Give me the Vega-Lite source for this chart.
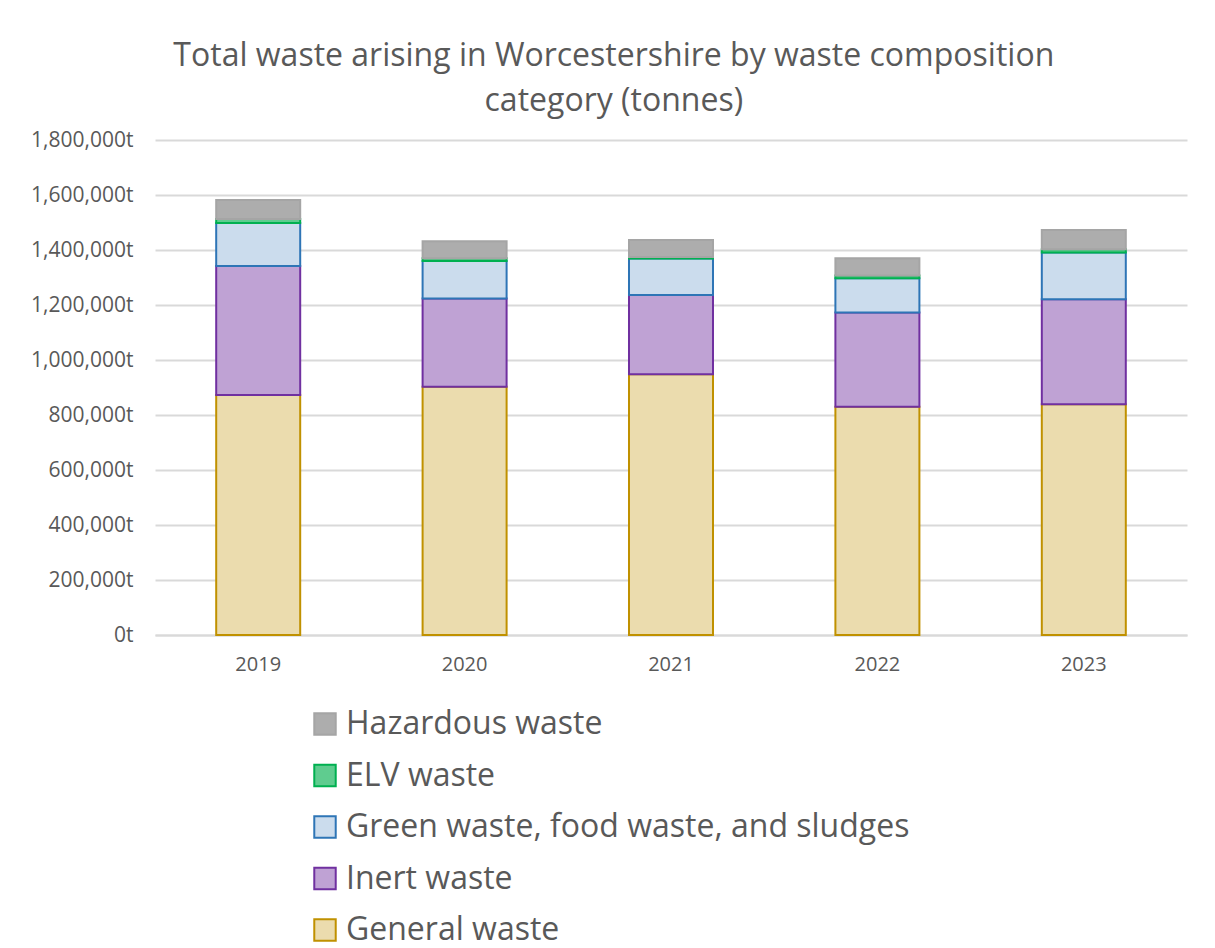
{
  "$schema": "https://vega.github.io/schema/vega-lite/v6.json",
  "width": 1032,
  "height": 495,
  "autosize": "none",
  "padding": {"left": 155, "top": 140, "right": 28, "bottom": 313},
  "background": "white",
  "config": {
    "font": "Open Sans",
    "view": {"stroke": null}
  },
  "title": {
    "text": ["Total waste arising in Worcestershire by waste composition", "category (tonnes)"],
    "fontSize": 32,
    "fontWeight": "normal",
    "color": "#595959",
    "lineHeight": 45,
    "offset": 11,
    "anchor": "middle",
    "frame": "bounds",
    "dx": 5
  },
  "data": {
    "values": [
      {"year": "2019", "category": "General waste", "rank": 1, "tonnes": 873000},
      {"year": "2019", "category": "Inert waste", "rank": 2, "tonnes": 469000},
      {"year": "2019", "category": "Green waste, food waste, and sludges", "rank": 3, "tonnes": 156000},
      {"year": "2019", "category": "ELV waste", "rank": 4, "tonnes": 15000},
      {"year": "2019", "category": "Hazardous waste", "rank": 5, "tonnes": 69000},
      {"year": "2020", "category": "General waste", "rank": 1, "tonnes": 903000},
      {"year": "2020", "category": "Inert waste", "rank": 2, "tonnes": 321000},
      {"year": "2020", "category": "Green waste, food waste, and sludges", "rank": 3, "tonnes": 136000},
      {"year": "2020", "category": "ELV waste", "rank": 4, "tonnes": 10000},
      {"year": "2020", "category": "Hazardous waste", "rank": 5, "tonnes": 62000},
      {"year": "2021", "category": "General waste", "rank": 1, "tonnes": 948000},
      {"year": "2021", "category": "Inert waste", "rank": 2, "tonnes": 288000},
      {"year": "2021", "category": "Green waste, food waste, and sludges", "rank": 3, "tonnes": 133000},
      {"year": "2021", "category": "ELV waste", "rank": 4, "tonnes": 6000},
      {"year": "2021", "category": "Hazardous waste", "rank": 5, "tonnes": 61000},
      {"year": "2022", "category": "General waste", "rank": 1, "tonnes": 830000},
      {"year": "2022", "category": "Inert waste", "rank": 2, "tonnes": 343000},
      {"year": "2022", "category": "Green waste, food waste, and sludges", "rank": 3, "tonnes": 124000},
      {"year": "2022", "category": "ELV waste", "rank": 4, "tonnes": 10000},
      {"year": "2022", "category": "Hazardous waste", "rank": 5, "tonnes": 63000},
      {"year": "2023", "category": "General waste", "rank": 1, "tonnes": 839000},
      {"year": "2023", "category": "Inert waste", "rank": 2, "tonnes": 382000},
      {"year": "2023", "category": "Green waste, food waste, and sludges", "rank": 3, "tonnes": 170000},
      {"year": "2023", "category": "ELV waste", "rank": 4, "tonnes": 12000},
      {"year": "2023", "category": "Hazardous waste", "rank": 5, "tonnes": 70000}
    ]
  },
  "mark": {"type": "bar", "strokeWidth": 2},
  "encoding": {
    "x": {
      "field": "year",
      "type": "ordinal",
      "title": null,
      "scale": {"paddingInner": 0.593, "paddingOuter": 0.2965},
      "axis": {
        "labelAngle": 0,
        "labelFontSize": 20,
        "labelColor": "#595959",
        "labelPadding": 19,
        "ticks": false,
        "domainColor": "#D9D9D9",
        "domainWidth": 2
      }
    },
    "y": {
      "field": "tonnes",
      "type": "quantitative",
      "stack": "zero",
      "title": null,
      "scale": {"domain": [0, 1800000], "nice": false},
      "axis": {
        "values": [0, 200000, 400000, 600000, 800000, 1000000, 1200000, 1400000, 1600000, 1800000],
        "labelExpr": "format(datum.value, ',') + 't'",
        "labelFontSize": 21,
        "labelColor": "#595959",
        "labelPadding": 22,
        "ticks": false,
        "domain": false,
        "gridColor": "#D9D9D9",
        "gridWidth": 2
      }
    },
    "order": {"field": "rank", "type": "quantitative", "sort": "ascending"},
    "fill": {
      "field": "category",
      "type": "nominal",
      "scale": {
        "domain": ["Hazardous waste", "ELV waste", "Green waste, food waste, and sludges", "Inert waste", "General waste"],
        "range": ["#ADADAD", "#5FCC8F", "#CBDCED", "#BFA2D4", "#EBDCAE"]
      },
      "legend": {
        "title": null,
        "orient": "none",
        "legendX": 154,
        "legendY": 568,
        "direction": "vertical",
        "symbolType": "square",
        "symbolSize": 460,
        "symbolStrokeWidth": 2,
        "labelFontSize": 32,
        "labelColor": "#595959",
        "labelOffset": 5,
        "rowPadding": 19.5,
        "labelLimit": 900
      }
    },
    "stroke": {
      "field": "category",
      "type": "nominal",
      "scale": {
        "domain": ["Hazardous waste", "ELV waste", "Green waste, food waste, and sludges", "Inert waste", "General waste"],
        "range": ["#A5A5A5", "#00B050", "#2E75B6", "#7030A0", "#C09100"]
      },
      "legend": {
        "title": null,
        "orient": "none",
        "legendX": 154,
        "legendY": 568,
        "direction": "vertical",
        "symbolType": "square",
        "symbolSize": 460,
        "symbolStrokeWidth": 2,
        "labelFontSize": 32,
        "labelColor": "#595959",
        "labelOffset": 5,
        "rowPadding": 19.5,
        "labelLimit": 900
      }
    }
  }
}
